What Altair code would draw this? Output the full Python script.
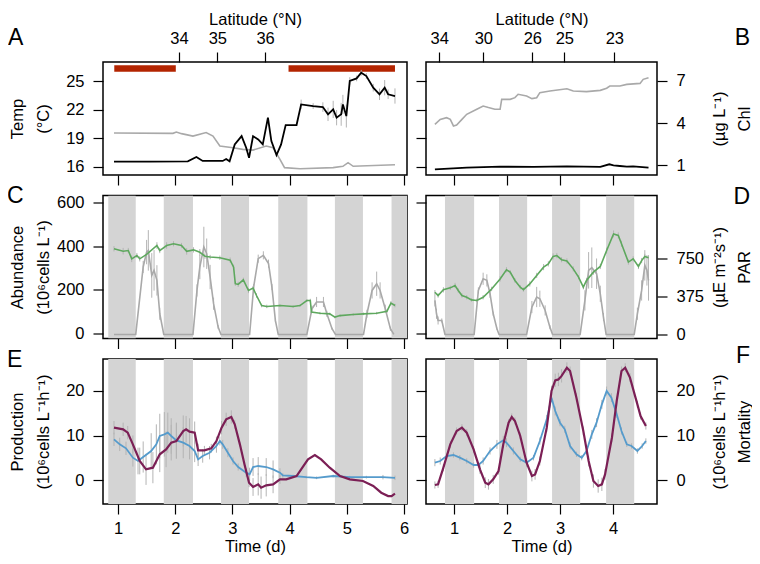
import altair as alt
import pandas as pd

FONT = "Liberation Sans"

# ---------------- data ----------------
# Panel A (temperature scale)
A_BLACK_T = [0.93, 1.55, 2.22, 2.37, 2.48, 2.83, 2.89, 2.95, 3.04, 3.16, 3.24, 3.29, 3.36, 3.45, 3.53, 3.62, 3.68, 3.77, 3.85, 3.93,
             4.12, 4.20, 4.41, 4.58, 4.67, 4.76, 4.82, 4.90, 4.93, 4.99, 5.05, 5.17, 5.25, 5.34, 5.46, 5.57, 5.66, 5.72, 5.84]
A_BLACK_V = [16.56, 16.56, 16.59, 17.04, 16.63, 16.63, 16.84, 16.59, 18.36, 19.23, 18.01, 16.97, 19.23, 18.88, 18.36, 21.16, 18.71, 17.25, 18.36, 20.39,
             20.39, 22.55, 22.38, 22.27, 21.51, 22.03, 21.16, 21.51, 22.55, 21.33, 25.00, 25.27, 25.86, 25.52, 24.30, 23.61, 24.30, 23.61, 23.43]
A_BLACK_E = [0, 0, 0, 0, 0, 0, 0, 0, 0, 0, 0, 0, 0, 0, 0, 0, 0, 0, 0, 0,
             0, 0.5, 0.3, 0.5, 0.7, 0.9, 0.8, 1.2, 1.0, 1.2, 0.4, 0.3, 0.3, 0.3, 0.4, 0.6, 0.8, 0.5, 0.8]
A_GRAY_T = [0.93, 1.96, 2.02, 2.11, 2.31, 2.54, 2.66, 2.78, 3.01, 3.18, 3.36, 3.59, 3.71, 3.83, 3.91, 4.18, 4.76, 4.93, 5.02, 5.11, 5.84]
A_GRAY_V = [19.56, 19.52, 19.66, 19.49, 19.23, 19.60, 19.23, 18.20, 18.01, 17.84, 17.77, 18.20, 18.01, 16.80, 15.93, 15.82, 15.93, 16.07, 16.45, 16.07, 16.24]
RED_T0 = [0.935, 3.98]
RED_T1 = [2.01, 5.84]
RED_Y0 = [25.97, 25.97]
RED_Y1 = [26.64, 26.64]
LAT_A_T = [2.066, 2.736, 3.57]
LAT_A_LABEL = ["34", "35", "36"]

# Panel B (Chl scale)
B_GRAY_T = [0.64, 0.74, 0.86, 0.93, 0.99, 1.05, 1.15, 1.24, 1.43, 1.55, 1.65, 1.77, 1.87, 1.90, 2.06, 2.15, 2.21, 2.37, 2.47, 2.56,
            2.62, 2.81, 3.13, 3.25, 3.50, 3.76, 3.88, 3.94, 4.13, 4.26, 4.51, 4.57, 4.67]
B_GRAY_V = [3.90, 4.26, 4.38, 4.26, 3.79, 3.86, 4.26, 4.62, 4.98, 5.21, 5.10, 4.98, 4.98, 5.69, 5.69, 5.81, 6.05, 5.93, 5.74, 5.81,
            6.17, 6.29, 6.45, 6.29, 6.24, 6.33, 6.48, 6.64, 6.64, 6.76, 6.83, 7.12, 7.24]
B_BLACK_T = [0.64, 1.24, 1.87, 2.50, 3.13, 3.76, 3.93, 4.01, 4.13, 4.26, 4.38, 4.67]
B_BLACK_V = [0.69, 0.81, 0.88, 0.86, 0.90, 0.86, 1.05, 0.98, 0.93, 0.88, 0.90, 0.81]
LAT_B_T = [0.722, 1.553, 2.478, 3.082, 4.025]
LAT_B_LABEL = ["34", "30", "26", "25", "23"]

TEMP_TICKS = [16, 19, 22, 25]
CHL_TICKS = [1, 4, 7]

# Night periods
NIGHT_L_T0 = [0.83, 1.80, 2.80, 3.80, 4.79, 5.78]
NIGHT_L_T1 = [1.31, 2.31, 3.29, 4.31, 5.28, 6.05]
NIGHT_R_T0 = [0.83, 1.85, 2.85, 3.87]
NIGHT_R_T1 = [1.38, 2.38, 3.38, 4.40]

# Panel C (abundance, PAR)
C_GREEN_T = [0.93, 1.09, 1.18, 1.24, 1.33, 1.38, 1.50, 1.68, 1.73, 1.85, 1.97, 2.11, 2.20, 2.32, 2.43, 2.52, 2.61, 2.78, 2.96, 3.02,
             3.05, 3.10, 3.19, 3.28, 3.36, 3.42, 3.51, 3.60, 3.83, 4.06, 4.18, 4.30, 4.36, 4.38, 4.53, 4.70, 4.79, 4.88, 5.11, 5.29,
             5.52, 5.70, 5.77, 5.84]
C_GREEN_V = [388, 377, 380, 342, 357, 342, 362, 403, 380, 403, 411, 403, 376, 383, 372, 354, 350, 347, 336, 304,
             228, 225, 246, 197, 208, 174, 128, 124, 128, 124, 128, 151, 151, 98, 93, 90, 75, 82, 87, 90,
             93, 102, 139, 128]
C_GREEN_E = [12, 15, 12, 15, 12, 12, 15, 15, 12, 15, 12, 12, 15, 12, 15, 12, 10, 10, 12, 12,
             10, 12, 10, 12, 10, 10, 8, 8, 6, 6, 6, 6, 8, 8, 6, 6, 6, 6, 6, 6,
             6, 8, 10, 8]
C_PAR_T = [0.93, 1.31, 1.44, 1.50, 1.53, 1.59, 1.63, 1.68, 1.73, 1.80,
           2.31, 2.38, 2.43, 2.50, 2.55, 2.61, 2.67, 2.75, 2.80,
           3.30, 3.37, 3.45, 3.54, 3.63, 3.69, 3.75, 3.80,
           4.30, 4.39, 4.47, 4.59, 4.65, 4.74, 4.80,
           5.29, 5.35, 5.44, 5.52, 5.58, 5.67, 5.76, 5.82]
C_PAR_V = [0, 0, 665, 812, 829, 582, 632, 533, 204, 0,
           0, 434, 665, 862, 796, 566, 303, 72, 0,
           0, 467, 747, 780, 698, 467, 138, 0,
           0, 254, 320, 320, 204, 56, 0,
           0, 204, 434, 500, 434, 254, 56, 0]
C_PAR_E = [0, 0, 60, 120, 200, 220, 200, 150, 60, 0,
           0, 60, 120, 200, 150, 120, 60, 20, 0,
           0, 30, 40, 40, 40, 30, 20, 0,
           0, 30, 50, 50, 30, 10, 0,
           0, 40, 80, 120, 80, 40, 20, 0]

# Panel D (abundance, PAR)
D_GREEN_T = [0.64, 0.70, 0.80, 0.93, 1.02, 1.08, 1.15, 1.24, 1.33, 1.43, 1.55, 1.71, 1.87, 1.99, 2.06, 2.15, 2.25, 2.31, 2.43, 2.56,
             2.69, 2.78, 2.87, 2.94, 3.03, 3.13, 3.25, 3.35, 3.44, 3.50, 3.63, 3.76, 3.88, 4.01, 4.10, 4.16, 4.29, 4.38, 4.48, 4.54,
             4.60, 4.67]
D_GREEN_V = [189, 174, 200, 209, 220, 197, 174, 166, 154, 151, 166, 204, 250, 292, 281, 243, 212, 201, 227, 266,
             304, 319, 353, 357, 338, 332, 296, 258, 212, 243, 281, 307, 380, 456, 449, 411, 327, 342, 307, 334,
             353, 347]
D_GREEN_E = [10, 10, 12, 10, 12, 10, 10, 10, 8, 8, 10, 10, 12, 12, 10, 10, 10, 10, 12, 12,
             14, 12, 14, 12, 12, 12, 12, 10, 10, 12, 12, 12, 14, 16, 14, 14, 12, 12, 12, 12,
             12, 12]
D_PAR_T = [0.64, 0.67, 0.70, 0.77, 0.83,
           1.38, 1.46, 1.55, 1.62, 1.68, 1.74, 1.81, 1.85,
           2.37, 2.47, 2.56, 2.62, 2.72, 2.81, 2.86,
           3.38, 3.47, 3.54, 3.60, 3.69, 3.76, 3.82, 3.87,
           4.40, 4.46, 4.54, 4.60, 4.64, 4.67]
D_PAR_V = [336, 204, 138, 138, 0,
           0, 434, 549, 533, 401, 204, 56, 0,
           0, 270, 369, 352, 237, 72, 0,
           0, 336, 632, 658, 599, 401, 171, 0,
           0, 204, 434, 681, 632, 533]
D_PAR_E = [60, 50, 40, 20, 0,
           0, 30, 60, 60, 40, 20, 10, 0,
           0, 60, 100, 80, 50, 20, 0,
           0, 100, 180, 200, 150, 80, 40, 0,
           0, 60, 100, 150, 150, 200]

ABU_TICKS = [0, 200, 400, 600]
PAR_TICKS = [0, 375, 750]

# Panel E (production, mortality)
E_PROD_T = [0.93, 1.03, 1.14, 1.26, 1.35, 1.44, 1.58, 1.67, 1.73, 1.81, 1.87, 1.93, 2.02, 2.14, 2.25, 2.34, 2.40, 2.48, 2.60, 2.72,
            2.78, 2.83, 2.92, 3.01, 3.10, 3.24, 3.30, 3.36, 3.45, 3.59, 3.71, 3.83, 3.88, 4.06, 4.29, 4.47, 4.76, 5.05, 5.34, 5.63,
            5.84]
E_PROD_V = [9.14, 8.01, 7.12, 5.02, 4.27, 5.17, 6.52, 8.01, 9.89, 10.26, 10.64, 9.89, 8.91, 8.39, 7.64, 6.52, 4.64, 5.39, 6.14, 7.64,
            8.76, 8.01, 6.14, 4.27, 2.92, 1.65, 1.27, 2.92, 3.15, 2.92, 2.40, 1.65, 1.02, 0.90, 0.64, 0.49, 0.90, 0.64, 0.64, 0.64,
            0.49]
E_PROD_E = [1.5, 1.5, 1.5, 2, 3, 3.5, 4, 4.5, 5, 5, 4.5, 4, 4, 3.5, 3, 2.5, 1.5, 1.5, 1.5, 1.5,
            1, 1, 1, 0.8, 0.8, 1, 1.5, 2, 2, 2, 2, 1, 0.5, 0.3, 0.3, 0.3, 0.3, 0.3, 0.3, 0.5,
            0.5]
E_MORT_T = [0.93, 1.09, 1.17, 1.26, 1.38, 1.49, 1.61, 1.73, 1.84, 1.93, 2.02, 2.14, 2.19, 2.25, 2.34, 2.40, 2.51, 2.63, 2.72, 2.81,
            2.89, 2.98, 3.04, 3.13, 3.21, 3.29, 3.36, 3.45, 3.50, 3.59, 3.71, 3.83, 3.94, 4.12, 4.20, 4.32, 4.44, 4.55, 4.70, 4.88,
            5.05, 5.28, 5.46, 5.60, 5.72, 5.78, 5.84]
E_MORT_V = [11.76, 11.39, 10.64, 8.01, 4.27, 2.40, 2.77, 5.77, 6.89, 8.39, 8.76, 11.01, 11.39, 10.86, 10.64, 6.67, 6.67, 7.12, 8.76, 11.76,
            13.63, 14.16, 12.51, 8.01, 3.52, -0.60, -1.57, -0.97, -1.72, -1.19, -0.97, 0.15, 0.15, 0.90, 2.40, 4.64, 5.62, 4.64, 2.77, 0.90,
            0.15, -0.22, -1.35, -2.85, -3.60, -3.60, -3.07]
E_MORT_E = [1.5, 1.5, 1.5, 2, 3, 3.5, 3.5, 4, 4, 4, 4, 3.5, 3, 3, 2.5, 1.5, 1, 1, 1, 1.5,
            1.5, 1.5, 1, 0.5, 0.5, 1, 2, 2.5, 2.5, 2.5, 2, 1, 0, 0, 0, 0, 0, 0, 0, 0,
            0, 0, 0, 0, 0, 0, 0]

# Panel F (production, mortality)
F_PROD_T = [0.64, 0.74, 0.86, 0.99, 1.11, 1.24, 1.37, 1.46, 1.55, 1.68, 1.81, 1.93, 1.99, 2.12, 2.25, 2.37, 2.50, 2.62, 2.75, 2.84,
            2.91, 3.00, 3.09, 3.19, 3.31, 3.41, 3.50, 3.60, 3.69, 3.79, 3.88, 3.97, 4.07, 4.16, 4.26, 4.35, 4.46, 4.55, 4.62]
F_PROD_V = [3.90, 4.27, 5.39, 5.62, 5.02, 4.27, 3.37, 3.37, 4.27, 6.52, 8.01, 8.91, 8.39, 6.52, 4.64, 3.90, 5.02, 8.76, 13.63, 18.50,
            15.50, 12.88, 11.39, 7.64, 5.77, 5.02, 6.52, 10.26, 12.88, 17.00, 20.00, 18.50, 14.76, 11.01, 8.01, 7.64, 6.52, 7.64, 8.76]
F_PROD_E = [0.8, 0.8, 0.6, 0.6, 0.6, 0.6, 0.6, 0.6, 0.8, 0.8, 1.0, 1.0, 1.0, 0.8, 0.6, 0.6, 0.6, 0.8, 1.0, 1.0,
            1.0, 0.8, 0.8, 0.8, 0.6, 0.6, 0.8, 1.0, 1.0, 1.0, 1.0, 1.0, 0.8, 0.8, 0.6, 0.6, 0.6, 0.6, 0.6]
F_MORT_T = [0.64, 0.70, 0.80, 0.93, 1.05, 1.15, 1.24, 1.37, 1.49, 1.59, 1.65, 1.74, 1.84, 1.93, 2.03, 2.09, 2.15, 2.25, 2.37, 2.47,
            2.53, 2.62, 2.75, 2.84, 2.91, 2.97, 3.03, 3.13, 3.19, 3.31, 3.44, 3.54, 3.63, 3.72, 3.79, 3.85, 3.98, 4.07, 4.16, 4.23,
            4.32, 4.46, 4.52, 4.62]
F_MORT_V = [-1.12, -0.97, 2.77, 8.01, 11.01, 11.76, 10.64, 6.89, 2.40, -0.60, -0.97, 0.15, 2.02, 8.01, 12.88, 14.16, 13.26, 9.89, 3.90, 0.90,
            1.27, 4.27, 11.76, 20.00, 22.40, 22.60, 23.40, 25.24, 24.50, 18.50, 11.01, 4.27, -0.22, -1.35, -0.97, 1.27, 9.51, 17.75, 24.50, 25.24,
            23.00, 17.00, 14.38, 12.13]
F_MORT_E = [0.8, 0.8, 0.8, 0.8, 0.8, 0.8, 0.8, 0.8, 1.0, 1.2, 1.2, 1.0, 0.8, 0.8, 0.8, 0.8, 0.8, 0.8, 1.0, 1.2,
            1.2, 1.0, 1.0, 1.2, 1.5, 1.5, 1.5, 1.2, 1.0, 1.0, 1.0, 1.2, 1.5, 1.5, 1.5, 1.2, 1.0, 1.0, 1.0, 1.0,
            1.0, 0.8, 0.8, 0.8]
RATE_TICKS = [0, 10, 20]

DAYS_L = [1, 2, 3, 4, 5, 6]
DAYS_R = [1, 2, 3, 4]
PANEL_LETTERS = ["A", "B", "C", "D", "E", "F"]

# ---------------- scales / styles ----------------
LX = [0.738, 6.05]
RX = [0.472, 4.83]
TEMP_DOM = [15.16, 26.99]
CHL_DOM = [0.286, 8.357]
ABU_DOM = [-22.9, 632]
PAR_DOM = [-40, 1370]
RATE_DOM = [-5.39, 27.19]

WL, WR = 304, 231
HA, HC, HE = 113, 143, 145

BLACK = "#000000"
GRAY = "#a9a9a9"
ERR = "#b4b4b4"
GREEN = "#5ea85e"
BLUE = "#559bcc"
PURPLE = "#7b1f55"
RED = "#b32400"
NIGHT = "#d4d4d4"

FS = 16.5
TICK = dict(tickSize=10, tickColor="black", tickWidth=1.2, domain=False, grid=False)


def sx(dom):
    return alt.Scale(domain=dom, nice=False, zero=False)


def lat_expr(ts, labels):
    expr = "''"
    for t, lab in reversed(list(zip(ts, labels))):
        expr = f"abs(datum.value - {t}) < 0.001 ? '{lab}' : ({expr})"
    return expr


def ax_bottom(values, labels):
    if labels:
        return alt.Axis(orient="bottom", values=values, labels=True, labelPadding=6,
                        title="Time (d)", titlePadding=2, **TICK)
    return alt.Axis(orient="bottom", values=values, labels=False, title=None, **TICK)


def ax_top(ts, labs):
    return alt.Axis(orient="top", values=ts, labelExpr=lat_expr(ts, labs), labelPadding=6,
                    title="Latitude (°N)", titlePadding=3, **TICK)


def ax_left(values, title=None):
    if title:
        return alt.Axis(orient="left", values=values, labelPadding=9, title=title,
                        titleX=-86, titleBaseline="middle", titleLineHeight=26, **TICK)
    return alt.Axis(orient="left", values=values, labels=False, title=None, **TICK)


def ax_right(values, title):
    return alt.Axis(orient="right", values=values, labelPadding=9, title=title, titleAngle=270,
                    titleX=62, titleBaseline="middle", titleLineHeight=25, **TICK)


def line(t, v, color, xdom, ydom, width=1.6, xaxis=None, yaxis=None):
    d = pd.DataFrame({"t": t, "v": v})
    return alt.Chart(d).mark_line(color=color, strokeWidth=width, clip=True).encode(
        x=alt.X("t:Q", scale=sx(xdom), axis=xaxis),
        y=alt.Y("v:Q", scale=sx(ydom), axis=yaxis),
    )


def errbars(t, v, e, xdom, ydom):
    d = pd.DataFrame({"t": t, "v": v, "e": e})
    d = d[d["e"] > 0]
    d = d.assign(lo=d["v"] - d["e"], hi=d["v"] + d["e"])
    return alt.Chart(d).mark_rule(color=ERR, strokeWidth=1, clip=True).encode(
        x=alt.X("t:Q", scale=sx(xdom), axis=None),
        y=alt.Y("lo:Q", scale=sx(ydom), axis=None),
        y2="hi:Q",
    )


def nights(t0, t1, xdom, xaxis):
    d = pd.DataFrame({"t0": t0, "t1": t1})
    return alt.Chart(d).mark_rect(color=NIGHT, clip=True).encode(
        x=alt.X("t0:Q", scale=sx(xdom), axis=xaxis),
        x2="t1:Q",
    )


def tick_layer(values, ydom, yaxis):
    d = pd.DataFrame({"v": values})
    return alt.Chart(d).mark_point(opacity=0).encode(
        y=alt.Y("v:Q", scale=sx(ydom), axis=yaxis)
    )


def letter(i, dx, dy):
    # panel letter, placed relative to the panel's plot area (top-left)
    d = pd.DataFrame({"label": [PANEL_LETTERS[i]]})
    return alt.Chart(d).mark_text(font=FONT, fontSize=23, color="black", align="left",
                                  baseline="alphabetic", dx=dx, dy=dy).encode(
        text="label:N", x=alt.value(0), y=alt.value(0))


def letter_right(i, w, dx, dy):
    # panel letter, placed relative to the panel's plot area (top-right)
    d = pd.DataFrame({"label": [PANEL_LETTERS[i]]})
    return alt.Chart(d).mark_text(font=FONT, fontSize=23, color="black", align="right",
                                  baseline="alphabetic", dx=dx, dy=dy).encode(
        text="label:N", x=alt.value(w), y=alt.value(0))


def panel(layers, w, h):
    return alt.layer(*layers).resolve_scale(x="independent", y="independent").properties(
        width=w, height=h)


# ---------------- panels ----------------
red_df = pd.DataFrame({"t0": RED_T0, "t1": RED_T1, "y0": RED_Y0, "y1": RED_Y1})
red = alt.Chart(red_df).mark_rect(color=RED).encode(
    x=alt.X("t0:Q", scale=sx(LX), axis=ax_top(LAT_A_T, LAT_A_LABEL)),
    x2="t1:Q",
    y=alt.Y("y0:Q", scale=sx(TEMP_DOM), axis=None),
    y2="y1:Q",
)

pA = panel([
    red,
    errbars(A_BLACK_T, A_BLACK_V, A_BLACK_E, LX, TEMP_DOM),
    line(A_GRAY_T, A_GRAY_V, GRAY, LX, TEMP_DOM, 1.6),
    line(A_BLACK_T, A_BLACK_V, BLACK, LX, TEMP_DOM, 1.8,
         xaxis=ax_bottom(DAYS_L, False), yaxis=ax_left(TEMP_TICKS, ["Temp", "(°C)"])),
    letter(0, -95, -17),
], WL, HA)

pB = panel([
    tick_layer(TEMP_TICKS, TEMP_DOM, ax_left(TEMP_TICKS)),
    line(B_GRAY_T, B_GRAY_V, GRAY, RX, CHL_DOM, 1.6, xaxis=ax_top(LAT_B_T, LAT_B_LABEL),
         yaxis=ax_right(CHL_TICKS, ["(µg L⁻¹)", "Chl"])),
    line(B_BLACK_T, B_BLACK_V, BLACK, RX, CHL_DOM, 1.8, xaxis=ax_bottom(DAYS_R, False)),
    letter_right(1, WR, 93, -17),
], WR, HA)

pC = panel([
    nights(NIGHT_L_T0, NIGHT_L_T1, LX, ax_bottom(DAYS_L, False)),
    errbars(C_PAR_T, C_PAR_V, C_PAR_E, LX, PAR_DOM),
    errbars(C_GREEN_T, C_GREEN_V, C_GREEN_E, LX, ABU_DOM),
    line(C_PAR_T, C_PAR_V, GRAY, LX, PAR_DOM, 1.6),
    line(C_GREEN_T, C_GREEN_V, GREEN, LX, ABU_DOM, 1.6,
         yaxis=ax_left(ABU_TICKS, ["Abundance", "(10⁶cells L⁻¹)"])),
    letter(2, -96, 7),
], WL, HC)

pD = panel([
    nights(NIGHT_R_T0, NIGHT_R_T1, RX, ax_bottom(DAYS_R, False)),
    errbars(D_PAR_T, D_PAR_V, D_PAR_E, RX, PAR_DOM),
    errbars(D_GREEN_T, D_GREEN_V, D_GREEN_E, RX, ABU_DOM),
    line(D_PAR_T, D_PAR_V, GRAY, RX, PAR_DOM, 1.6,
         yaxis=ax_right(PAR_TICKS, ["(µE m⁻²s⁻¹)", "PAR"])),
    line(D_GREEN_T, D_GREEN_V, GREEN, RX, ABU_DOM, 1.6, yaxis=ax_left(ABU_TICKS)),
    letter_right(3, WR, 93, 8),
], WR, HC)

pE = panel([
    nights(NIGHT_L_T0, NIGHT_L_T1, LX, ax_bottom(DAYS_L, True)),
    errbars(E_PROD_T, E_PROD_V, E_PROD_E, LX, RATE_DOM),
    errbars(E_MORT_T, E_MORT_V, E_MORT_E, LX, RATE_DOM),
    line(E_PROD_T, E_PROD_V, BLUE, LX, RATE_DOM, 1.8,
         yaxis=ax_left(RATE_TICKS, ["Production", "(10⁶cells L⁻¹h⁻¹)"])),
    line(E_MORT_T, E_MORT_V, PURPLE, LX, RATE_DOM, 2.2),
    letter(4, -96, 8),
], WL, HE)

pF = panel([
    nights(NIGHT_R_T0, NIGHT_R_T1, RX, ax_bottom(DAYS_R, True)),
    errbars(F_PROD_T, F_PROD_V, F_PROD_E, RX, RATE_DOM),
    errbars(F_MORT_T, F_MORT_V, F_MORT_E, RX, RATE_DOM),
    line(F_PROD_T, F_PROD_V, BLUE, RX, RATE_DOM, 1.8, yaxis=ax_left(RATE_TICKS)),
    line(F_MORT_T, F_MORT_V, PURPLE, RX, RATE_DOM, 2.2,
         yaxis=ax_right(RATE_TICKS, ["(10⁶cells L⁻¹h⁻¹)", "Mortality"])),
    letter_right(5, WR, 93, 4),
], WR, HE)

chart = alt.concat(
    pA, pB, pC, pD, pE, pF,
    columns=2,
    spacing={"row": 20.5, "column": 19},
    bounds="flush",
    align="each",
).properties(
    autosize=alt.AutoSizeParams(type="none"),
    padding={"left": 95, "top": 54, "right": 649, "bottom": 502},
).configure_axis(
    labelFont=FONT, titleFont=FONT, labelFontSize=FS, titleFontSize=FS,
    titleFontWeight="normal", labelColor="black", titleColor="black",
).configure_view(
    stroke="black", strokeWidth=1.5
)

chart.save("out.html", embed_options={"renderer": "svg", "actions": False})
